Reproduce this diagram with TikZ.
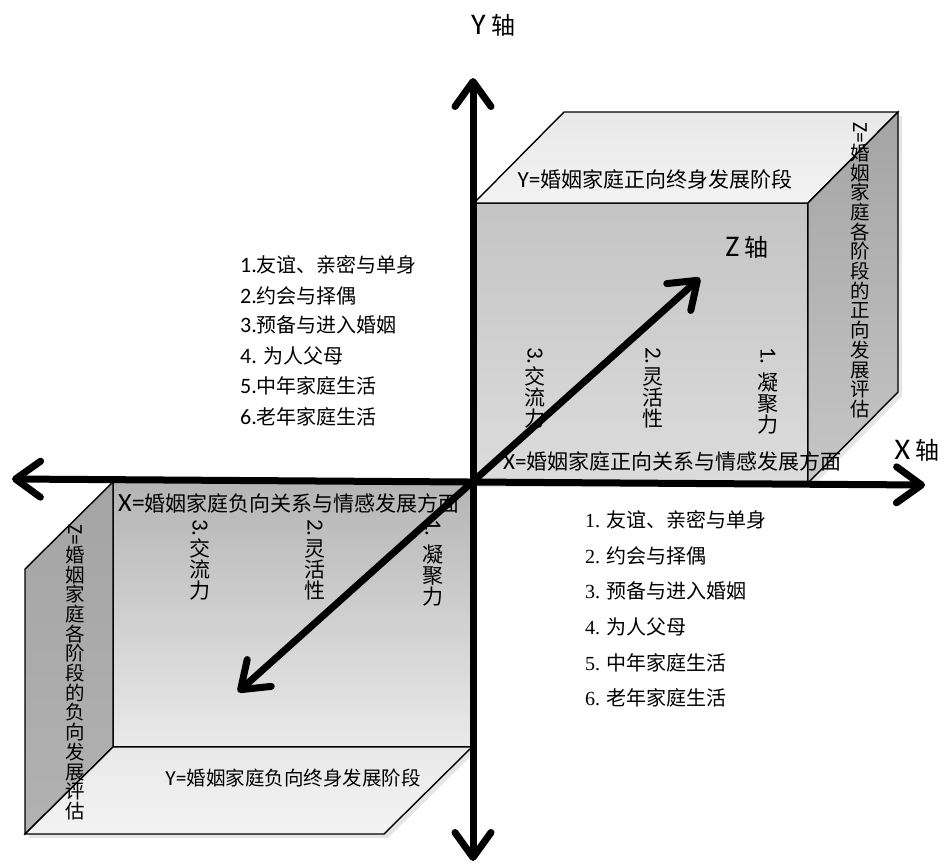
\documentclass[tikz,border=0pt]{standalone}
\usepackage{fontspec}
\usepackage{graphicx}
\setmainfont{Noto Sans CJK SC}
\newfontfamily\lat[Scale=1.1]{Carlito}
\newfontfamily\latbig[Scale=1.25]{Carlito}
\newfontfamily\ser{Liberation Serif}
\usetikzlibrary{arrows.meta}
\definecolor{frontTop}{HTML}{C4C4C4}
\definecolor{frontBot}{HTML}{DCDCDC}
\definecolor{sideTop}{HTML}{A4A4A4}
\definecolor{sideBot}{HTML}{C6C6C6}
\definecolor{lidA}{HTML}{E8E8E8}
\definecolor{lidB}{HTML}{F3F3F3}
\tikzset{
  edge/.style={draw=black, line width=1.4pt, line join=miter},
  shade/.style={fill=black, opacity=0.10},
  axis/.style={line width=7pt, line cap=round,
    {Straight Barb[length=25pt,width=36pt,round]}-{Straight Barb[length=25pt,width=36pt,round]}},
  lbl/.style={inner sep=0pt, font=\fontsize{21}{21}\selectfont},
  axlbl/.style={inner sep=0pt, font=\fontsize{24}{24}\selectfont},
  vt/.style={inner sep=0pt, anchor=north, align=center, font=\fontsize{21}{21.2}\selectfont},
  vside/.style={inner sep=0pt, anchor=north, align=center, font=\fontsize{19.5}{19.7}\selectfont},
  lsans/.style={inner sep=0pt, anchor=west, font=\fontsize{20}{20}\selectfont},
  lserif/.style={inner sep=0pt, anchor=west, font=\fontsize{20}{20}\selectfont},
}
\newcommand{\rot}[1]{\rotatebox[origin=c]{-90}{\lat #1}}
\begin{document}
\begin{tikzpicture}[x=1pt,y=-1pt]
\useasboundingbox (0,0) rectangle (945,864);

% ---------- top-right cube ----------
\coordinate (A1) at (474,203);
\coordinate (A2) at (808,203);
\coordinate (A3) at (808,483);
\coordinate (A4) at (474,483);
\coordinate (A5) at (564,112);
\coordinate (A6) at (898,112);
\coordinate (A7) at (898,392);
\fill[shade] ([shift={(4,4)}]A1) -- ([shift={(4,4)}]A5) -- ([shift={(4,4)}]A6) -- ([shift={(4,4)}]A7) -- ([shift={(4,4)}]A3) -- ([shift={(4,4)}]A4) -- cycle;
\path[edge, top color=frontTop, bottom color=frontBot] (A1) -- (A2) -- (A3) -- (A4) -- cycle;
\path[edge, top color=lidA, bottom color=lidB] (A1) -- (A5) -- (A6) -- (A2) -- cycle;
\path[edge, top color=sideTop, bottom color=sideBot] (A2) -- (A6) -- (A7) -- (A3) -- cycle;

% ---------- bottom-left cube ----------
\coordinate (B1) at (113,482);
\coordinate (B2) at (472,482);
\coordinate (B3) at (472,747);
\coordinate (B4) at (113,747);
\coordinate (B5) at (25,569);
\coordinate (B8) at (25,834);
\coordinate (B7) at (384,834);
\fill[shade] ([shift={(4,4)}]B5) -- ([shift={(4,4)}]B1) -- ([shift={(4,4)}]B2) -- ([shift={(4,4)}]B3) -- ([shift={(4,4)}]B7) -- ([shift={(4,4)}]B8) -- cycle;
\path[edge, top color=frontTop!92!black, bottom color=frontBot!60!white] (B1) -- (B2) -- (B3) -- (B4) -- cycle;
\path[edge, top color=sideTop, bottom color=sideTop!85!white] (B1) -- (B5) -- (B8) -- (B4) -- cycle;
\path[edge, top color=lidA, bottom color=lidB] (B4) -- (B3) -- (B7) -- (B8) -- cycle;

% ---------- texts on top-right cube ----------
\node[lbl] (ytop) at (655,180) {{\lat Y=}婚姻家庭正向终身发展阶段};
\node[lbl, anchor=west] (xpos) at (503,461) {{\lat X=}婚姻家庭正向关系与情感发展方面};
\node[vt] (c3a) at (535,347) {\rot{3.}\\交\\流\\力};
\node[vt] (c2a) at (653,347) {\rot{2.}\\灵\\活\\性};
\node[vt] (c1a) at (768,347) {\rot{1. }\\凝\\聚\\力};
\node[vside] (zpos) at (860,122) {\rot{Z=}\\婚\\姻\\家\\庭\\各\\阶\\段\\的\\正\\向\\发\\展\\评\\估};
\node[axlbl] (zlab) at (747,247) {{\latbig Z} 轴};

% ---------- texts on bottom-left cube ----------
\node[lbl, anchor=west] (xneg) at (118,503) {{\latbig X=}婚姻家庭负向关系与情感发展方面};
\node[vt] (c3b) at (200,519) {\rot{3.}\\交\\流\\力};
\node[vt] (c2b) at (315,519) {\rot{2.}\\灵\\活\\性};
\node[vt] (c1b) at (433,519) {\rot{1. }\\凝\\聚\\力};
\node[vside] (zneg) at (75,524) {\rot{Z=}\\婚\\姻\\家\\庭\\各\\阶\\段\\的\\负\\向\\发\\展\\评\\估};
\node[lbl, font=\fontsize{19.5}{19.5}\selectfont] (ybot) at (293,778) {{\lat Y=}婚姻家庭负向终身发展阶段};

% ---------- lists ----------
\node[lsans] (l1) at (240,265) {{\lat 1.}友谊、亲密与单身};
\node[lsans] (l2) at (240,295.5) {{\lat 2.}约会与择偶};
\node[lsans] (l3) at (240,325) {{\lat 3.}预备与进入婚姻};
\node[lsans] (l4) at (240,355.5) {{\lat 4. }为人父母};
\node[lsans] (l5) at (240,386) {{\lat 5.}中年家庭生活};
\node[lsans] (l6) at (240,416.5) {{\lat 6.}老年家庭生活};

\node[lserif] (r1) at (585,520) {{\ser 1. }友谊、亲密与单身};
\node[lserif] (r2) at (585,555.5) {{\ser 2. }约会与择偶};
\node[lserif] (r3) at (585,591) {{\ser 3. }预备与进入婚姻};
\node[lserif] (r4) at (585,627) {{\ser 4. }为人父母};
\node[lserif] (r5) at (585,662.5) {{\ser 5. }中年家庭生活};
\node[lserif] (r6) at (585,698) {{\ser 6. }老年家庭生活};

% ---------- axes ----------
\coordinate (Ytop) at (473,78);
\coordinate (Ybot) at (473,861);
\coordinate (Xl) at (12,479);
\coordinate (Xr) at (925,485);
\coordinate (Zp) at (700,278);
\coordinate (Zn) at (238,692);
\draw[axis] (Ybot) -- (Ytop);
\draw[axis] (Xl) -- (Xr);
\draw[axis] (Zn) -- (Zp);

\node[axlbl] (ylab) at (493,25) {{\latbig Y} 轴};
\node[axlbl] (xlab) at (917,450) {{\latbig X} 轴};
\end{tikzpicture}
\end{document}
